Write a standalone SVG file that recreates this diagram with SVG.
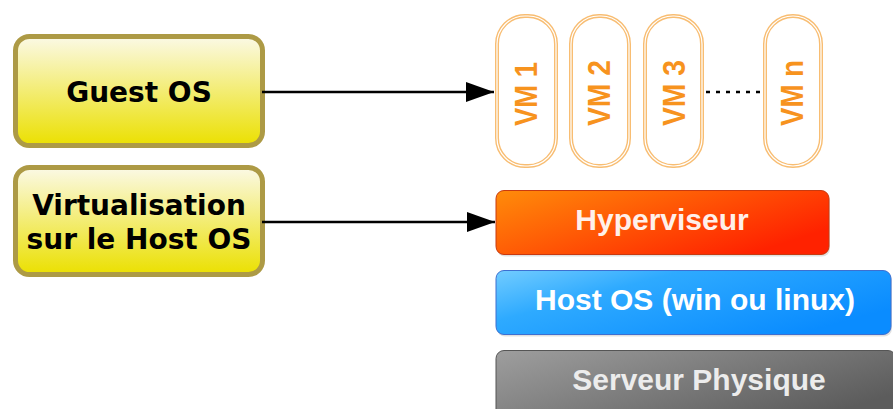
<svg xmlns="http://www.w3.org/2000/svg" width="893" height="409" viewBox="0 0 893 409">
  <defs>
    <linearGradient id="gYellow" x1="0" y1="0" x2="0" y2="1">
      <stop offset="0" stop-color="#fbf9e6"/>
      <stop offset="1" stop-color="#ebe000"/>
    </linearGradient>
    <linearGradient id="gOrange" x1="0" y1="0" x2="1" y2="0.6">
      <stop offset="0" stop-color="#ff8c0a"/>
      <stop offset="1" stop-color="#ff2200"/>
    </linearGradient>
    <linearGradient id="gBlue" x1="0" y1="0" x2="1" y2="0.6">
      <stop offset="0" stop-color="#72ccff"/>
      <stop offset="0.35" stop-color="#2eaaff"/>
      <stop offset="1" stop-color="#0a8cff"/>
    </linearGradient>
    <linearGradient id="gGray" x1="0" y1="0" x2="1" y2="0.6">
      <stop offset="0" stop-color="#9e9e9e"/>
      <stop offset="1" stop-color="#5c5c5c"/>
    </linearGradient>
    <marker id="arr" viewBox="0 0 28 20" refX="28" refY="10" markerWidth="28" markerHeight="20" markerUnits="userSpaceOnUse" orient="auto">
      <path d="M0,0 L28,10 L0,20 Z" fill="#000"/>
    </marker>
  </defs>
  <style>
    .lbl { font-family: "DejaVu Sans", "Liberation Sans", sans-serif; font-weight: bold; font-size: 28px; fill: #000; text-anchor: middle; }
    .left { fill: url(#gYellow); stroke: #ad9a45; stroke-width: 5; }
    .vm { fill: #fff; stroke: #f8bd72; stroke-width: 4; }
    .vmin { fill: none; stroke: #fff; stroke-width: 1.2; }
    .vmt { font-family: "Liberation Sans", Arial, sans-serif; font-weight: bold; font-size: 32px; fill: #f7931e; text-anchor: middle; }
    .layer { font-family: "Liberation Sans", Arial, sans-serif; font-weight: bold; font-size: 30px; text-anchor: middle; }
    .shadow { fill: #000; opacity: 0.12; }
  </style>

  <g id="guest-os">
    <rect class="left" x="15.5" y="36.5" width="247" height="109" rx="14"/>
    <text class="lbl" x="139" y="102">Guest OS</text>
  </g>

  <g id="virtualisation">
    <rect class="left" x="15.5" y="167.5" width="247" height="107" rx="14"/>
    <text class="lbl" x="139" y="215">Virtualisation</text>
    <text class="lbl" x="139" y="249">sur le Host OS</text>
  </g>

  <g id="vm1">
    <rect class="vm" x="497" y="16" width="59" height="150" rx="28"/>
    <rect class="vmin" x="497" y="16" width="59" height="150" rx="28"/>
    <text class="vmt" transform="translate(537,94) rotate(-90)" textLength="64" lengthAdjust="spacingAndGlyphs">VM 1</text>
  </g>
  <g id="vm2">
    <rect class="vm" x="571" y="16" width="58" height="150" rx="28"/>
    <rect class="vmin" x="571" y="16" width="58" height="150" rx="28"/>
    <text class="vmt" transform="translate(610,93) rotate(-90)" textLength="66" lengthAdjust="spacingAndGlyphs">VM 2</text>
  </g>
  <g id="vm3">
    <rect class="vm" x="645" y="16" width="57" height="150" rx="28"/>
    <rect class="vmin" x="645" y="16" width="57" height="150" rx="28"/>
    <text class="vmt" transform="translate(685,93) rotate(-90)" textLength="66" lengthAdjust="spacingAndGlyphs">VM 3</text>
  </g>
  <g id="vmn">
    <rect class="vm" x="765" y="16" width="56" height="150" rx="28"/>
    <rect class="vmin" x="765" y="16" width="56" height="150" rx="28"/>
    <text class="vmt" transform="translate(803,93) rotate(-90)" textLength="66" lengthAdjust="spacingAndGlyphs">VM n</text>
  </g>

  <g id="hyperviseur">
    <rect class="shadow" x="497" y="192.5" width="333" height="64" rx="8"/>
    <rect x="496" y="190.5" width="333" height="64" rx="8" fill="url(#gOrange)" stroke="#c83a10" stroke-width="1"/>
    <text class="layer" x="662" y="230" fill="#fff0ea">Hyperviseur</text>
  </g>

  <g id="host-os">
    <rect class="shadow" x="497" y="272.5" width="395" height="64" rx="8"/>
    <rect x="496" y="270.5" width="395" height="64" rx="8" fill="url(#gBlue)" stroke="#3d6fd0" stroke-width="1"/>
    <text class="layer" x="695" y="310" fill="#ffffff">Host OS (win ou linux)</text>
  </g>

  <g id="serveur-physique">
    <rect x="496" y="350.5" width="400" height="72" rx="8" fill="url(#gGray)" stroke="#555" stroke-width="1"/>
    <text class="layer" x="699" y="390" fill="#ececec">Serveur Physique</text>
  </g>

  <g id="connectors">
    <line x1="262" y1="92" x2="494" y2="92" stroke="#000" stroke-width="2.5" marker-end="url(#arr)"/>
    <line x1="262" y1="222" x2="495" y2="222" stroke="#000" stroke-width="2.5" marker-end="url(#arr)"/>
    <line x1="706" y1="92" x2="764" y2="92" stroke="#000" stroke-width="2.5" stroke-dasharray="4 6"/>
  </g>
</svg>
